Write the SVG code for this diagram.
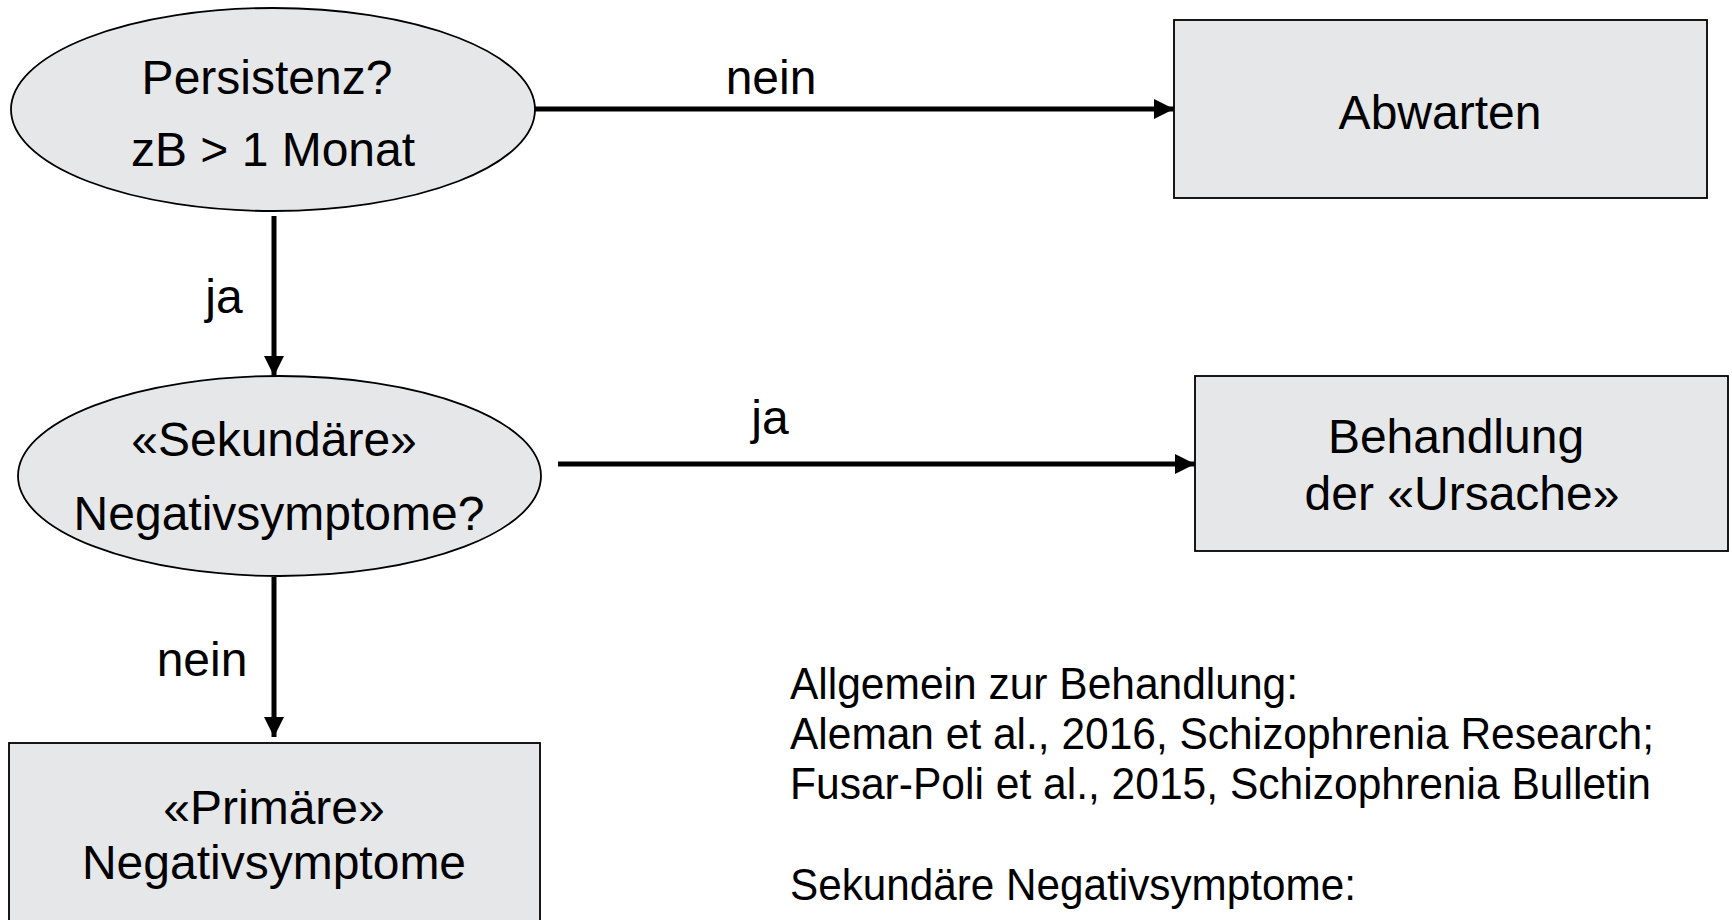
<svg xmlns="http://www.w3.org/2000/svg" width="1732" height="920" viewBox="0 0 1732 920">
<style>
.shape{fill:#e6e7e9;stroke:#000;stroke-width:1.8}
.t{font-family:"Liberation Sans",Arial,sans-serif;font-size:48px;fill:#000;text-anchor:middle}
.lbl{font-family:"Liberation Sans",Arial,sans-serif;font-size:48px;fill:#000;text-anchor:middle}
.ref{font-family:"Liberation Sans",Arial,sans-serif;font-size:45px;fill:#000}
.conn{stroke:#000;stroke-width:5;fill:none}
</style>
<defs>
<marker id="arr" viewBox="0 0 10 10" refX="10" refY="5" markerWidth="4" markerHeight="4" orient="auto" markerUnits="strokeWidth">
<path d="M0,0 L10,5 L0,10 Z" fill="#000"/>
</marker>
</defs>
<rect width="1732" height="920" fill="#fff"/>
<g id="connectors">
<line class="conn" x1="535" y1="109" x2="1174" y2="109" marker-end="url(#arr)"/>
<line class="conn" x1="274" y1="216" x2="274" y2="376" marker-end="url(#arr)"/>
<line class="conn" x1="558" y1="464" x2="1195" y2="464" marker-end="url(#arr)"/>
<line class="conn" x1="274" y1="577" x2="274" y2="737" marker-end="url(#arr)"/>
<text class="lbl" x="771" y="94">nein</text>
<text class="lbl" x="224" y="313">ja</text>
<text class="lbl" x="770" y="434">ja</text>
<text class="lbl" x="202" y="676">nein</text>
</g>
<g id="persistenz">
<ellipse class="shape" cx="273" cy="109.5" rx="262" ry="101.5"/>
<text class="t" x="267" y="94">Persistenz?</text>
<text class="t" x="273" y="166">zB &gt; 1 Monat</text>
</g>
<g id="abwarten">
<rect class="shape" x="1174" y="20" width="533" height="178"/>
<text class="t" x="1440" y="129">Abwarten</text>
</g>
<g id="sekundaere">
<ellipse class="shape" cx="279.5" cy="476" rx="261.5" ry="100"/>
<text class="t" x="274" y="456">«Sekundäre»</text>
<text class="t" x="279" y="530">Negativsymptome?</text>
</g>
<g id="behandlung">
<rect class="shape" x="1195" y="376" width="533" height="175"/>
<text class="t" x="1456" y="453">Behandlung</text>
<text class="t" x="1462" y="510">der «Ursache»</text>
</g>
<g id="primaere">
<rect class="shape" x="9" y="743" width="531" height="190"/>
<text class="t" x="274" y="824">«Primäre»</text>
<text class="t" x="274" y="879">Negativsymptome</text>
</g>
<g id="references">
<text class="ref" x="790" y="699" textLength="508" lengthAdjust="spacingAndGlyphs">Allgemein zur Behandlung:</text>
<text class="ref" x="790" y="749" textLength="864" lengthAdjust="spacingAndGlyphs">Aleman et al., 2016, Schizophrenia Research;</text>
<text class="ref" x="790" y="799" textLength="861" lengthAdjust="spacingAndGlyphs">Fusar-Poli et al., 2015, Schizophrenia Bulletin</text>
<text class="ref" x="790" y="900" textLength="566" lengthAdjust="spacingAndGlyphs">Sekundäre Negativsymptome:</text>
</g>
</svg>
